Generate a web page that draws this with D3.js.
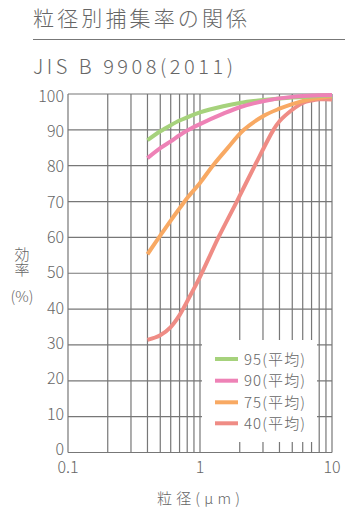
<!DOCTYPE html>
<html><head><meta charset="utf-8">
<script src="https://cdn.jsdelivr.net/npm/d3@7"></script>
<style>
html,body{margin:0;padding:0;background:#fff;}
text{font-family:"Noto Sans CJK JP","Noto Sans",sans-serif;fill:#666;font-weight:300;}
</style></head>
<body>
<svg id="c" width="348" height="508"></svg>
<script>
const title = "粒径別捕集率の関係";
const subtitle = "JIS B 9908(2011)";
const yLabelVertical = "効率";
const yLabelUnit = "(%)";
const xLabel = "粒径(μm)";
const yTicks = [0,10,20,30,40,50,60,70,80,90,100];
const xTickLabels = [{v:0.1,t:"0.1"},{v:1,t:"1"},{v:10,t:"10"}];
const xGrid = [0.2,0.3,0.4,0.5,0.6,0.7,0.8,0.9,1,2,3,4,5,6,7,8,9,10];
const seriesNames = ["95(平均)","90(平均)","75(平均)","40(平均)"];
const seriesColors = ["#a6d27c","#ee82b6","#f8a963","#ef8c85"];
const s95 = [[0.4,87.1],[0.5,89.6],[0.6,91.3],[0.7,92.6],[0.8,93.5],[1,94.9],[1.5,96.6],[2,97.5],[3,98.3],[5,99.0],[10,99.6]];
const s90 = [[0.4,82.1],[0.5,84.9],[0.6,86.8],[0.7,88.5],[0.8,89.8],[1,91.6],[1.5,94.5],[2,96.3],[3,98.0],[5,99.2],[10,99.7]];
const s75 = [[0.4,55.3],[0.5,60.5],[0.6,64.7],[0.7,68.1],[0.8,71.0],[1,75.2],[1.25,80],[1.6,84.7],[2.15,90],[3,93.8],[4,95.9],[5,97.2],[7,98.6],[10,99.4]];
const s40 = [[0.4,31.4],[0.5,32.7],[0.6,35.0],[0.7,38.3],[0.8,42.2],[1,49],[1.38,60],[1.9,70],[2.6,80],[3.6,90],[4,92.4],[5,95.6],[6,97.5],[7,98.2],[8,98.5],[10,98.5]];
const seriesData = [s95, s90, s75, s40];

const svg = d3.select("#c");
const x = d3.scaleLog().domain([0.1,10]).range([68,332]);
const y = d3.scaleLinear().domain([0,100]).range([452.5,94]);
const yLab = d3.scaleLinear().domain([0,100]).range([455,101.7]);
const gridColor = "#777";

// header
svg.append("text").attr("x",33).attr("y",26).attr("font-size",21)
  .attr("textLength",214).attr("lengthAdjust","spacing").text(title);
svg.append("line").attr("x1",33).attr("x2",345).attr("y1",39.5).attr("y2",39.5).attr("stroke","#777").attr("stroke-width",1.2);
svg.append("text").attr("x",33).attr("y",74).attr("font-size",20)
  .attr("font-family","'DejaVu Sans',sans-serif").attr("font-weight",200)
  .attr("textLength",200).attr("lengthAdjust","spacing").text(subtitle);

// grid
const g = svg.append("g");
g.selectAll(".hg").data(yTicks).join("line")
  .attr("x1",x(0.1)).attr("x2",x(10)).attr("y1",d=>y(d)).attr("y2",d=>y(d))
  .attr("stroke",gridColor).attr("stroke-width",1.2);
g.selectAll(".vg").data([0.1].concat(xGrid)).join("line")
  .attr("x1",d=>x(d)).attr("x2",d=>x(d)).attr("y1",y(0)).attr("y2",y(100))
  .attr("stroke",gridColor).attr("stroke-width",1.2);

// y tick labels
svg.selectAll(".yl").data(yTicks).join("text")
  .attr("x",64).attr("y",d=>yLab(d)).attr("text-anchor","end").attr("font-size",16)
  .attr("font-family","'Open Sans',sans-serif").text(d=>d);
// x tick labels
svg.selectAll(".xl").data(xTickLabels).join("text")
  .attr("x",d=>x(d.v)).attr("y",473).attr("text-anchor","middle").attr("font-size",16)
  .attr("font-family","'Open Sans',sans-serif").text(d=>d.t);

// axis titles
svg.append("text").attr("x",22).attr("y",247).attr("font-size",15)
  .style("writing-mode","vertical-rl").text(yLabelVertical);
svg.append("text").attr("x",22).attr("y",302).attr("text-anchor","middle").attr("font-size",15).text(yLabelUnit);
svg.append("text").attr("x",157).attr("y",504).attr("font-size",15)
  .attr("textLength",83).attr("lengthAdjust","spacing").text(xLabel);

// curves
const line = d3.line().x(d=>x(d[0])).y(d=>y(d[1])).curve(d3.curveCatmullRom.alpha(0.5));
const order = [3,2,0,1];
order.forEach(i=>{
  svg.append("path").attr("d",line(seriesData[i])).attr("fill","none")
    .attr("stroke",seriesColors[i]).attr("stroke-width",4).attr("stroke-linecap","butt");
});

// legend
const lg = svg.append("g");
lg.append("rect").attr("x",202).attr("y",340).attr("width",115).attr("height",102).attr("fill","#fff");
const rowY = [359,380.7,402.3,423.3];
seriesNames.forEach((n,i)=>{
  lg.append("line").attr("x1",215).attr("x2",238).attr("y1",rowY[i]).attr("y2",rowY[i])
    .attr("stroke",seriesColors[i]).attr("stroke-width",4);
  lg.append("text").attr("x",244).attr("y",rowY[i]+5.5).attr("font-size",15)
    .attr("textLength",61).attr("lengthAdjust","spacing").text(n);
});
</script>
</body></html>
